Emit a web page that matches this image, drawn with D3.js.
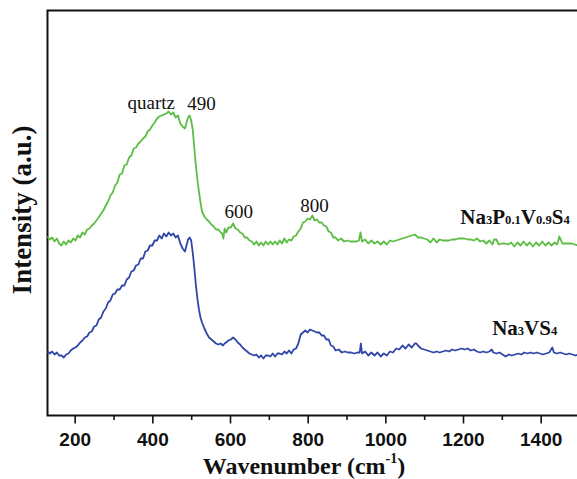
<!DOCTYPE html>
<html>
<head>
<meta charset="utf-8">
<script src="https://cdn.jsdelivr.net/npm/d3@7"></script>
<style>
  body { margin: 0; background: #fff; }
  svg { display: block; }
  .tick text { font-family: "Liberation Sans", Arial, sans-serif; font-weight: bold; font-size: 19px; }
</style>
</head>
<body>
<div id="chart"></div>
<script>
// Raman spectra (intensity in arbitrary units)
var greenWave = [130,136,142,148,154,160,166,172,178,184,190,196,202,208,214,220,226,232,238,244,250,256,262,268,274,280,286,292,298,304,310,316,322,328,334,340,346,352,358,364,370,376,382,388,394,400,406,412,418,424,430,436,442,448,454,460,466,472,478,484,488,492,496,500,504,508,512,516,520,524,528,534,540,546,552,558,564,570,576,580,583,586,590,596,602,608,614,620,626,632,638,644,650,656,662,668,674,680,686,692,698,704,710,716,722,728,734,740,746,752,758,764,770,776,782,788,794,800,806,812,818,824,830,836,842,848,854,860,866,872,878,886,894,902,910,918,926,932,936,940,948,956,964,972,980,988,996,1004,1012,1020,1028,1036,1044,1052,1060,1068,1076,1084,1092,1100,1108,1116,1124,1132,1140,1148,1156,1164,1172,1180,1188,1196,1204,1212,1220,1228,1236,1244,1252,1260,1268,1276,1280,1286,1292,1300,1308,1316,1324,1332,1340,1348,1356,1364,1372,1380,1388,1396,1404,1412,1420,1428,1436,1442,1445,1448,1456,1464,1472,1480,1488,1496];
var greenInt = [179,176,178,174,177,172,170,174,171,175,173,177,175,180,178,183,181,186,187,190,192,195,198,202,205,210,214,220,223,230,233,241,242,250,251,258,260,267,268,272,274,277,279,284,286,290,293,297,299,300,301,302,304,301,303,298,300,292,289,287,293,298,300,295,286,268,250,236,224,213,204,199,196,194,191,189,186,186,183,182,177,187,183,188,188,192,187,186,183,182,178,178,175,174,171,174,170,173,170,174,171,174,171,174,171,175,172,177,173,176,175,179,180,184,187,193,194,197,196,200,195,196,193,193,190,189,184,183,178,178,175,177,174,175,174,174,174,175,183,174,176,172,175,172,174,171,174,171,175,174,175,176,177,178,179,180,181,178,178,177,176,173,177,173,176,175,175,175,176,176,177,177,177,176,176,175,177,174,175,172,175,171,176,176,171,172,172,171,173,169,173,170,174,170,173,169,173,170,174,170,173,170,173,171,174,179,172,172,172,172,171,170,172];

var blueWave = [130,136,142,148,154,160,166,172,178,184,190,196,202,208,214,220,226,232,238,244,250,256,262,268,274,280,286,292,298,304,310,316,322,328,334,340,346,352,358,364,370,376,382,388,394,400,406,412,418,424,430,436,442,448,454,460,466,472,478,484,488,492,496,500,504,508,512,516,520,524,528,534,540,546,552,558,564,570,576,582,586,590,596,602,608,614,620,626,632,638,644,650,656,662,668,674,680,686,692,698,704,710,716,722,728,734,740,746,752,758,764,770,776,782,788,794,800,806,812,818,824,830,836,842,848,854,860,866,872,880,888,896,904,912,920,928,934,937,940,948,956,964,972,980,988,996,1004,1012,1020,1028,1036,1044,1052,1060,1068,1076,1080,1084,1092,1100,1108,1116,1124,1132,1140,1148,1156,1164,1172,1180,1188,1196,1204,1212,1220,1228,1236,1244,1252,1260,1268,1274,1278,1286,1294,1302,1310,1318,1326,1334,1342,1350,1358,1366,1374,1382,1390,1398,1406,1414,1422,1430,1434,1442,1450,1458,1466,1474,1482,1490,1496];
var blueInt = [64,62,64,61,63,60,60,58,61,62,65,67,68,70,73,75,78,79,83,84,89,90,96,98,104,107,113,115,121,122,126,126,130,130,136,138,144,145,150,151,157,157,164,165,170,170,175,175,180,177,182,179,183,180,182,178,180,172,167,164,170,176,178,175,163,148,131,117,106,98,93,87,82,78,76,74,72,71,72,70,72,73,75,76,78,76,73,71,68,66,64,62,61,60,61,58,60,57,60,60,59,62,59,62,62,61,64,62,65,62,66,67,72,81,83,85,83,86,85,84,83,83,80,80,76,76,70,69,65,66,63,64,63,63,62,63,63,72,62,64,60,63,60,63,59,62,60,64,63,67,66,70,67,71,68,72,72,70,67,66,65,64,63,64,63,64,65,64,66,65,66,67,66,67,65,66,64,63,64,63,64,66,63,62,63,61,59,61,60,61,62,61,63,62,63,62,63,62,61,62,63,68,63,62,63,62,61,62,61,60,61];

var majorTicks = [200, 400, 600, 800, 1000, 1200, 1400];
var minorTicks = [300, 500, 700, 900, 1100, 1300, 1500];

var peakLabels = ["quartz", "490", "600", "800"];
var peakWave = [336, 490, 586, 781];
var peakInt = [307, 305.5, 197.5, 204];

var W = 577, H = 479;
var margin = {top: 10.5, left: 47.5, bottom: 63.5};
var plotRight = 579.5;

var svg = d3.select("#chart").append("svg")
    .attr("width", W)
    .attr("height", H);

var x = d3.scaleLinear().domain([130, 1500]).range([margin.left, plotRight]);
var y = d3.scaleLinear().domain([0, 405]).range([H - margin.bottom, margin.top]);

// frame
svg.append("rect")
    .attr("x", margin.left)
    .attr("y", margin.top)
    .attr("width", plotRight - margin.left)
    .attr("height", H - margin.bottom - margin.top)
    .attr("fill", "none")
    .attr("stroke", "#111")
    .attr("stroke-width", 2);

// axes
var xAxis = svg.append("g")
    .attr("transform", "translate(0," + (H - margin.bottom) + ")")
    .call(d3.axisBottom(x).tickValues(majorTicks).tickSize(8).tickPadding(9).tickFormat(d3.format("d")));
xAxis.select(".domain").remove();
xAxis.selectAll(".tick line").attr("stroke", "#111").attr("stroke-width", 1.6);
xAxis.selectAll(".tick text").attr("fill", "#111");

var xMinor = svg.append("g")
    .attr("transform", "translate(0," + (H - margin.bottom) + ")")
    .call(d3.axisBottom(x).tickValues(minorTicks).tickSize(4.5).tickFormat(""));
xMinor.select(".domain").remove();
xMinor.selectAll(".tick line").attr("stroke", "#111").attr("stroke-width", 1.6);

// lines
var line = d3.line()
    .x(function(d) { return x(d[0]); })
    .y(function(d) { return y(d[1]); });

var green = d3.zip(greenWave, greenInt);
var blue = d3.zip(blueWave, blueInt);

svg.append("path")
    .datum(green)
    .attr("d", line)
    .attr("fill", "none")
    .attr("stroke", "#5cbd45")
    .attr("stroke-width", 1.8)
    .attr("stroke-linejoin", "round");

svg.append("path")
    .datum(blue)
    .attr("d", line)
    .attr("fill", "none")
    .attr("stroke", "#2f46a8")
    .attr("stroke-width", 1.8)
    .attr("stroke-linejoin", "round");

// peak annotations
svg.selectAll(".peak")
    .data(peakLabels)
    .enter().append("text")
    .attr("class", "peak")
    .attr("x", function(d, i) { return x(peakWave[i]); })
    .attr("y", function(d, i) { return y(peakInt[i]); })
    .attr("font-family", "'Liberation Serif', 'Times New Roman', serif")
    .attr("font-size", 19)
    .attr("fill", "#111")
    .text(function(d) { return d; });

// series labels with subscripts
function formula(parent, xPos, yPos, parts, size) {
  var t = parent.append("text")
      .attr("x", xPos)
      .attr("y", yPos)
      .attr("font-family", "'Liberation Serif', 'Times New Roman', serif")
      .attr("font-weight", "bold")
      .attr("font-size", size)
      .attr("fill", "#111");
  parts.forEach(function(p) {
    t.append("tspan")
      .attr("font-size", p[1] ? size * 0.6 : size)
      .text(p[0]);
  });
}

formula(svg, x(1193), y(191.5), [["Na",0],["3",1],["P",0],["0.1",1],["V",0],["0.9",1],["S",0],["4",1]], 21);
formula(svg, x(1275), y(81), [["Na",0],["3",1],["VS",0],["4",1]], 21);

// axis titles
var xt = svg.append("text")
    .attr("x", 304)
    .attr("y", 474)
    .attr("text-anchor", "middle")
    .attr("font-family", "'Liberation Serif', 'Times New Roman', serif")
    .attr("font-weight", "bold")
    .attr("font-size", 24)
    .attr("fill", "#111");
xt.append("tspan").text("Wavenumber (cm");
xt.append("tspan").attr("font-size", 14).attr("dy", -11).text("-1");
xt.append("tspan").attr("dy", 11).text(")");

svg.append("text")
    .attr("transform", "translate(31,210) rotate(-90)")
    .attr("text-anchor", "middle")
    .attr("font-family", "'Liberation Serif', 'Times New Roman', serif")
    .attr("font-weight", "bold")
    .attr("font-size", 27)
    .attr("fill", "#111")
    .text("Intensity (a.u.)");
</script>
</body>
</html>
